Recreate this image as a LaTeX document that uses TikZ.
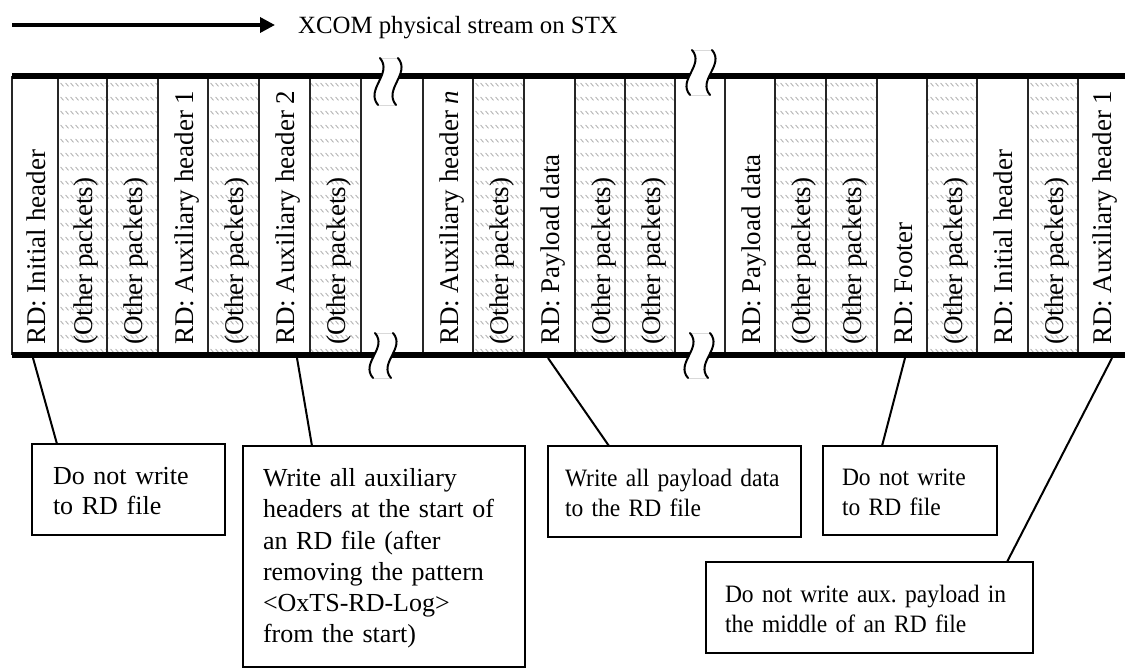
\documentclass[tikz,border=0pt]{standalone}
\usepackage{fontspec}
\setmainfont{Liberation Serif}
\newfontfamily\narrowserif{Liberation Serif}[FakeStretch=0.94]
\usetikzlibrary{arrows.meta,patterns.meta,calc}

% light rows of short slanted strokes for "other packets" slots
\tikzdeclarepattern{
  name=packethatch,
  type=uncolored,
  bounding box={(0pt,0pt) and (5pt,13.5pt)},
  tile size={(5pt,13.5pt)},
  code={\draw[line width=1pt,line cap=round] (0.8pt,12.3pt) -- (4pt,9.1pt);}
}

% break mark across a stream edge: #1 x of left wave at top, #2 top y, #3 bottom y, #4 gap
\newcommand\streambreak[4]{%
  \pgfmathsetmacro\sbA{#2+(#3-#2)/3}%
  \pgfmathsetmacro\sbB{#2+2*(#3-#2)/3}%
  \pgfmathsetmacro\sbR{#1+#4}%
  \fill[white] (#1,#2) .. controls (#1+13,\sbA) and (#1-15,\sbB) .. (#1-2,#3)
    -- (\sbR-2,#3) .. controls (\sbR-15,\sbB) and (\sbR+13,\sbA) .. (\sbR,#2) -- cycle;
  \draw[gray!30,line width=0.6pt] (#1,#2) -- (\sbR,#2) (#1-2,#3) -- (\sbR-2,#3);
  \draw[breakwave] (#1,#2) .. controls (#1+13,\sbA) and (#1-15,\sbB) .. (#1-2,#3);
  \draw[breakwave] (\sbR,#2) .. controls (\sbR+13,\sbA) and (\sbR-15,\sbB) .. (\sbR-2,#3);
}

\begin{document}
\frenchspacing
\begin{tikzpicture}[x=1pt,y=-1pt,
  edgeline/.style={line width=6pt},
  slotline/.style={line width=1.2pt,black!85},
  breakwave/.style={line width=2pt,line cap=round},
  packetlabel/.style={rotate=90,anchor=base west,inner sep=0pt,
    font=\fontsize{27}{32}\selectfont},
  calloutbox/.style={draw,line width=2pt,align=left,outer sep=0pt,
    inner ysep=0pt,anchor=north west,font=\narrowserif\fontsize{25}{30}\selectfont},
  bigtext/.style={font=\fontsize{26}{#1}\selectfont},
  leader/.style={line width=2pt}]
\useasboundingbox (0,0) rectangle (1125,671);

% direction of the stream
\coordinate (streamstart) at (12,25);
\coordinate (streamend) at (275,25);
\draw[line width=3.5pt,-{Triangle[length=15pt,width=15pt]}] (streamstart) -- (streamend);
\node[anchor=base west,inner sep=0pt,font=\fontsize{24.8}{29}\selectfont] (title)
  at (298,34) {XCOM physical stream on STX};

% hatched slots
\foreach \a/\b in {58/107,107/158,208/259,310/361,473/524,575/625,625/675,
                   775/826,826/877,927/977,1028/1078}
  \fill[pattern=packethatch,pattern color=gray!60] (\a,79) rectangle (\b,352);

% slot separators
\foreach \x in {12,58,107,158,208,259,310,361,423,473,524,575,625,675,725,
                775,826,877,927,977,1028,1078}
  \draw[slotline] (\x,76) -- (\x,355);

% stream edges
\draw[edgeline] (12,76) -- (1125,76);
\draw[edgeline] (12,355) -- (1125,355);

% breaks in the stream
\streambreak{380}{58}{105}{18}
\streambreak{375}{333}{378}{18}
\streambreak{692}{50}{95}{20}
\streambreak{690}{333}{378}{20}

% slot labels
\node[packetlabel] (s1)  at (45,345)   {RD: Initial header};
\node[packetlabel] (s2)  at (92.5,345) {(Other packets)};
\node[packetlabel] (s3)  at (142.5,345) {(Other packets)};
\node[packetlabel] (s4)  at (193,345)  {RD: Auxiliary header 1};
\node[packetlabel] (s5)  at (243.5,345) {(Other packets)};
\node[packetlabel] (s6)  at (294.5,345) {RD: Auxiliary header 2};
\node[packetlabel] (s7)  at (345.5,345) {(Other packets)};
\node[packetlabel] (s8)  at (458,345)  {RD: Auxiliary header \textit{n}};
\node[packetlabel] (s9)  at (508.5,345) {(Other packets)};
\node[packetlabel] (s10) at (559.5,345) {RD: Payload data};
\node[packetlabel] (s11) at (610,345)  {(Other packets)};
\node[packetlabel] (s12) at (660,345)  {(Other packets)};
\node[packetlabel] (s13) at (760,345)  {RD: Payload data};
\node[packetlabel] (s14) at (810.5,345) {(Other packets)};
\node[packetlabel] (s15) at (861.5,345) {(Other packets)};
\node[packetlabel] (s16) at (912,345)  {RD: Footer};
\node[packetlabel] (s17) at (962,345)  {(Other packets)};
\node[packetlabel] (s18) at (1012.5,345) {RD: Initial header};
\node[packetlabel] (s19) at (1063,345) {(Other packets)};
\node[packetlabel] (s20) at (1111.5,345) {RD: Auxiliary header 1};

% callout boxes
\node[calloutbox,bigtext=29.5,inner xsep=21pt,text width=151pt,minimum width=193pt,minimum height=91pt]
  (b1) at (32,444) {\strut Do not write\\to RD file};
\node[calloutbox,bigtext=31.2,inner xsep=20pt,text width=242pt,minimum width=282pt,minimum height=221pt]
  (b2) at (243,446) {\strut Write all auxiliary\\headers at the start of\\an RD file (after\\removing the pattern\\<OxTS-RD-Log>\\from the start)};
\node[calloutbox,inner xsep=17pt,text width=219pt,minimum width=253pt,minimum height=91pt]
  (b3) at (548,446) {\strut\mbox{Write all payload data}\\to the RD file};
\node[calloutbox,inner xsep=19pt,text width=136pt,minimum width=174pt,minimum height=89pt]
  (b4) at (823,446) {\strut Do not write\\to RD file};
\node[calloutbox,inner xsep=19pt,text width=289pt,minimum width=327pt,minimum height=91pt]
  (b5) at (706,562) {\strut\mbox{Do not write aux. payload in}\\the middle of an RD file};

% leaders from slots to boxes
\coordinate (t1) at (33,358);
\coordinate (t2) at (297,358);
\coordinate (t3) at (548,358);
\coordinate (t4) at (905,358);
\coordinate (t5) at (1112,358);
\draw[leader] (t1) -- ([xshift=25pt]b1.north west);
\draw[leader] (t2) -- ([xshift=69pt]b2.north west);
\draw[leader] (t3) -- ([xshift=61pt]b3.north west);
\draw[leader] (t4) -- ([xshift=59pt]b4.north west);
\draw[leader] (t5) -- ([xshift=301pt]b5.north west);
\end{tikzpicture}
\end{document}
